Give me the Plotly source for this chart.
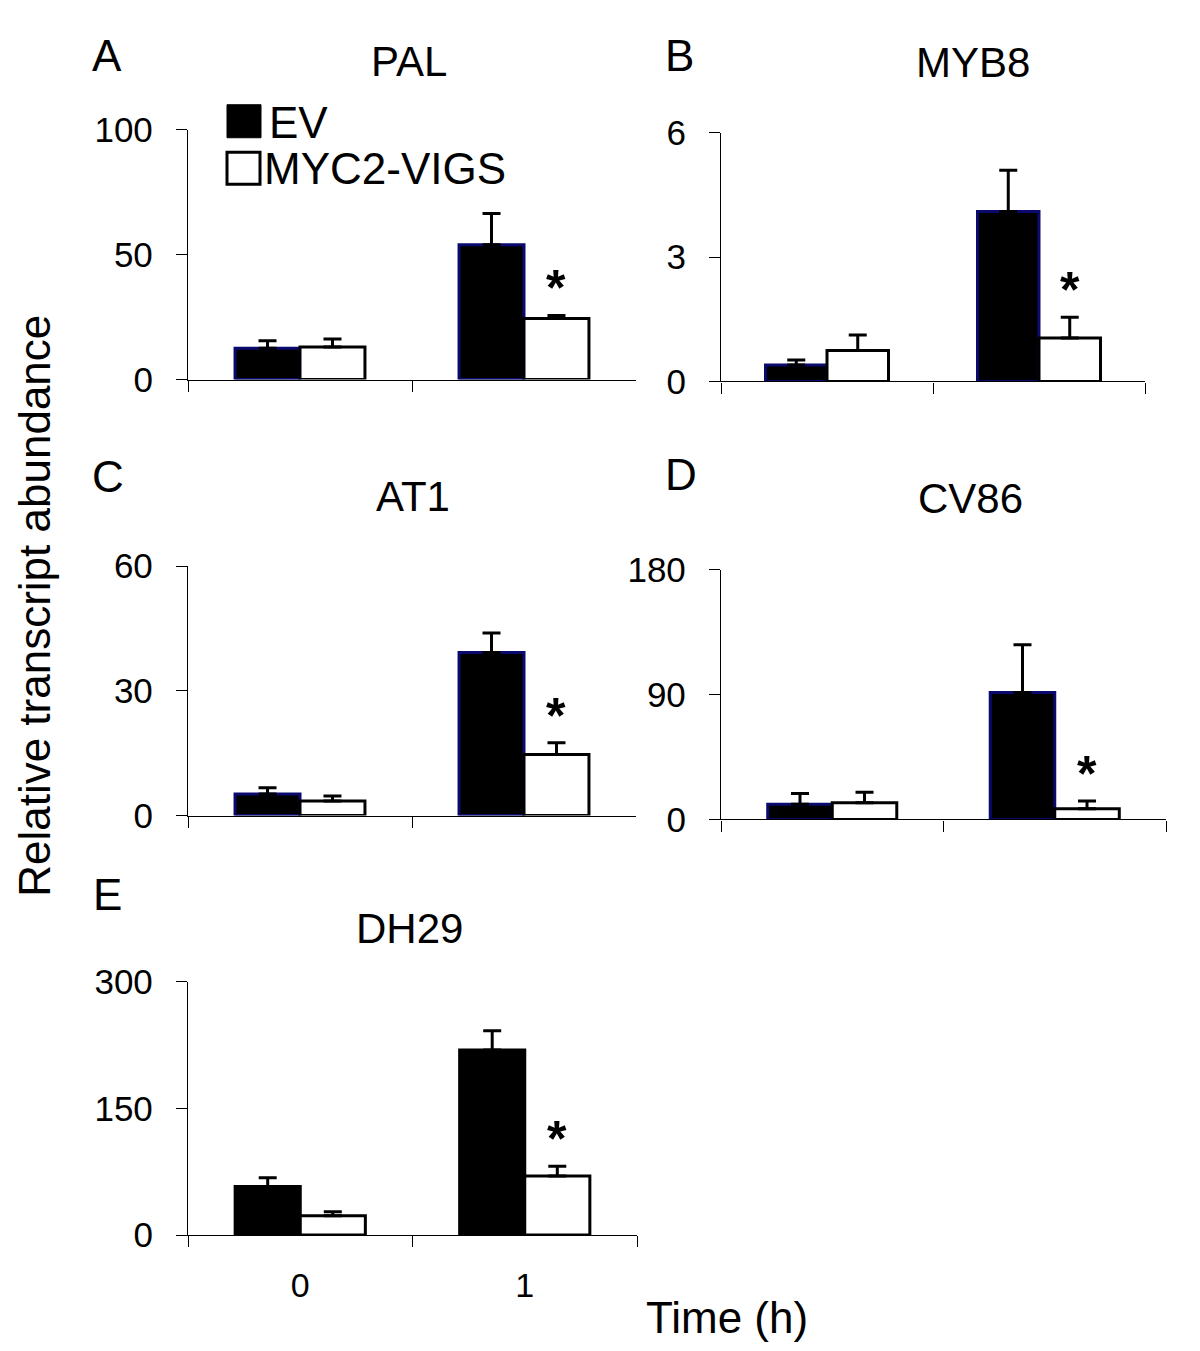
import plotly.graph_objects as go

W, H = 1200, 1351
FONT = "Liberation Sans, Arial, sans-serif"

times = ["0", "1"]
genes = ["PAL", "MYB8", "AT1", "CV86", "DH29"]
letters = ["A", "B", "C", "D", "E"]

# mean and upper error (SE), [0 h, 1 h]
pal_ev, pal_ev_err = [12.5, 54.0], [3.0, 12.5]
pal_vigs, pal_vigs_err = [13.0, 24.5], [3.2, 1.2]
myb8_ev, myb8_ev_err = [0.40, 4.10], [0.12, 1.00]
myb8_vigs, myb8_vigs_err = [0.75, 1.05], [0.37, 0.50]
at1_ev, at1_ev_err = [5.2, 39.2], [1.5, 4.7]
at1_vigs, at1_vigs_err = [3.5, 14.7], [1.2, 2.8]
cv86_ev, cv86_ev_err = [11.0, 91.5], [7.8, 34.5]
cv86_vigs, cv86_vigs_err = [12.0, 7.7], [7.6, 5.6]
dh29_ev, dh29_ev_err = [57.5, 219.0], [10.3, 23.0]
dh29_vigs, dh29_vigs_err = [23.0, 70.0], [4.6, 11.6]

y_max = [100, 6, 60, 180, 300]
significant = [[False, True]] * 5  # asterisk over MYC2-VIGS bars

ev = [pal_ev, myb8_ev, at1_ev, cv86_ev, dh29_ev]
ev_err = [pal_ev_err, myb8_ev_err, at1_ev_err, cv86_ev_err, dh29_ev_err]
vigs = [pal_vigs, myb8_vigs, at1_vigs, cv86_vigs, dh29_vigs]
vigs_err = [pal_vigs_err, myb8_vigs_err, at1_vigs_err, cv86_vigs_err, dh29_vigs_err]

# plot boxes in pixels: x0, x1, y_top, y_bottom
boxes = [(180, 628, 105, 362), (713, 1137, 108, 364),
         (180, 628, 554, 811), (713, 1158, 558, 815),
         (180, 629, 982, 1243)]
title_pos = [(401, 34), (965, 36), (405, 482), (962, 485), (401, 927)]
letter_pos = [(99, 28), (671, 28), (100, 462), (673, 460), (99, 892)]

BARGAP = 0.42


def px(x):
    return x / W


def py(y):
    return 1 - y / H


fig = go.Figure()
annotations = []

for n in range(5):
    s = "" if n == 0 else str(n + 1)
    ev_line = "#0a0a6e" if n < 4 else "black"
    fig.add_trace(go.Bar(
        x=times, y=ev[n], xaxis="x" + s, yaxis="y" + s, name="EV",
        marker=dict(color="black", line=dict(color=ev_line, width=3)),
        error_y=dict(type="data", symmetric=False, array=ev_err[n],
                     arrayminus=[0, 0], color="black", thickness=3, width=9),
        showlegend=False,
    ))
    fig.add_trace(go.Bar(
        x=times, y=vigs[n], xaxis="x" + s, yaxis="y" + s, name="MYC2-VIGS",
        marker=dict(color="white", line=dict(color="black", width=3)),
        error_y=dict(type="data", symmetric=False, array=vigs_err[n],
                     arrayminus=[0, 0], color="black", thickness=3, width=9),
        showlegend=False,
    ))

    x0, x1, yt, yb = boxes[n]
    fig.layout["xaxis" + s] = dict(
        domain=[px(x0), px(x1)], anchor="y" + s, type="category",
        showline=True, linecolor="black", linewidth=1.3,
        ticks="outside", tickson="boundaries", ticklen=11, tickwidth=1.3,
        tickcolor="black", showgrid=False, zeroline=False,
        showticklabels=(n == 4), ticklabelstandoff=20,
        tickfont=dict(size=34, color="black", family=FONT),
    )
    fig.layout["yaxis" + s] = dict(
        domain=[py(yb), py(yt)], anchor="x" + s, range=[0, y_max[n]],
        tickvals=[0, y_max[n] / 2, y_max[n]],
        ticktext=[f"{v:g}" for v in (0, y_max[n] / 2, y_max[n])],
        showline=True, linecolor="black", linewidth=1.3,
        ticks="outside", ticklen=11, tickwidth=1.3, tickcolor="black",
        showgrid=False, zeroline=False, ticklabelstandoff=16,
        tickfont=dict(size=35, color="black", family=FONT),
    )

    # significance asterisks above the MYC2-VIGS bars
    half = (1 - BARGAP) / 4
    for i, sig in enumerate(significant[n]):
        if sig:
            annotations.append(dict(
                x=i + half, y=vigs[n][i] + vigs_err[n][i],
                xref="x" + s, yref="y" + s, text="<b>*</b>", showarrow=False,
                xanchor="center", yanchor="bottom", yshift=-3,
                font=dict(size=50, color="black", family=FONT),
            ))

    tx, ty = title_pos[n]
    annotations.append(dict(
        x=px(tx), y=py(ty), xref="paper", yref="paper", text=genes[n],
        showarrow=False, xanchor="center", yanchor="middle",
        font=dict(size=42, color="black", family=FONT),
    ))
    lx, ly = letter_pos[n]
    annotations.append(dict(
        x=px(lx), y=py(ly), xref="paper", yref="paper", text=letters[n],
        showarrow=False, xanchor="center", yanchor="middle",
        font=dict(size=44, color="black", family=FONT),
    ))

# legend drawn as big squares with labels
shapes = [
    dict(type="rect", xref="paper", yref="paper",
         x0=px(219), x1=px(253), y0=py(113), y1=py(79),
         fillcolor="black", line=dict(color="black", width=1)),
    dict(type="rect", xref="paper", yref="paper",
         x0=px(219), x1=px(252), y0=py(161), y1=py(128),
         fillcolor="white", line=dict(color="black", width=3)),
]
annotations += [
    dict(x=px(259), y=py(97), xref="paper", yref="paper", text="EV",
         showarrow=False, xanchor="left", yanchor="middle",
         font=dict(size=44, color="black", family=FONT)),
    dict(x=px(254), y=py(145), xref="paper", yref="paper", text="MYC2-VIGS",
         showarrow=False, xanchor="left", yanchor="middle",
         font=dict(size=44, color="black", family=FONT)),
    dict(x=px(27), y=py(595), xref="paper", yref="paper",
         text="Relative transcript abundance", textangle=-90,
         showarrow=False, xanchor="center", yanchor="middle",
         font=dict(size=44, color="black", family=FONT)),
    dict(x=px(719), y=py(1328), xref="paper", yref="paper", text="Time (h)",
         showarrow=False, xanchor="center", yanchor="middle",
         font=dict(size=44, color="black", family=FONT)),
]

fig.update_layout(
    width=W, height=H, barmode="group", bargap=BARGAP, bargroupgap=0,
    margin=dict(l=0, r=0, t=0, b=0),
    paper_bgcolor="white", plot_bgcolor="white",
    font=dict(family=FONT, color="black"),
    annotations=annotations, shapes=shapes,
)

fig.write_html("out.html")
